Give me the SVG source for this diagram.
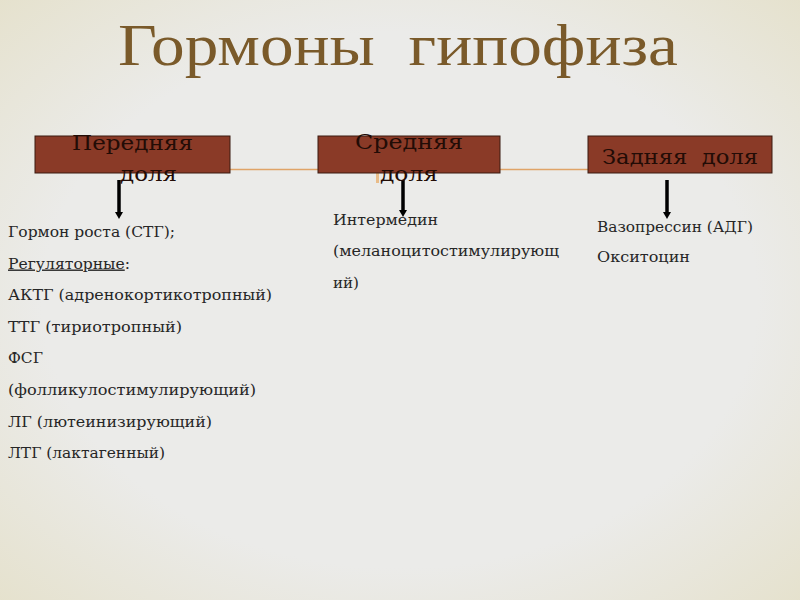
<svg xmlns="http://www.w3.org/2000/svg" width="800" height="600" viewBox="0 0 800 600">
<defs>
<radialGradient id="bg" cx="50%" cy="50%" r="72%">
<stop offset="0.62" stop-color="#ebebe9"/>
<stop offset="1" stop-color="#e5e1cc"/>
</radialGradient>
<style>
.box{fill:#8a3a27;stroke:#3a1a10;stroke-width:1}
.bt{font-family:"DejaVu Serif","Liberation Serif",serif;font-size:21px;fill:#220c06}
.t{font-family:"DejaVu Serif","Liberation Serif",serif;font-size:14px;fill:#262626}
.arr{stroke:#000;stroke-width:3.5;fill:none}
.head{fill:#000}
</style>
</defs>
<rect width="800" height="600" fill="url(#bg)"/>
<text x="118" y="65" textLength="560" lengthAdjust="spacingAndGlyphs" font-family="Liberation Serif,serif" font-size="60" fill="#7a5a2a" xml:space="preserve">Гормоны  гипофиза</text>
<g id="connectors">
<line x1="230" y1="169.5" x2="588" y2="169.5" stroke="#e0a468" stroke-width="1.5"/>
<rect x="376" y="173" width="3" height="10" fill="#e8b070" opacity="0.8"/>
<line class="arr" x1="119" y1="180" x2="119" y2="213"/>
<polygon class="head" points="115,212 123,212 119,219"/>
<line class="arr" x1="403" y1="180" x2="403" y2="211"/>
<polygon class="head" points="399,210 407,210 403,217"/>
<line class="arr" x1="667" y1="180" x2="667" y2="213"/>
<polygon class="head" points="663,212 671,212 667,219"/>
</g>
<g id="node-front">
<rect class="box" x="35" y="136" width="195" height="37"/>
<text class="bt" x="72" y="150" textLength="121" lengthAdjust="spacingAndGlyphs">Передняя</text>
<text class="bt" x="120" y="181" textLength="57" lengthAdjust="spacingAndGlyphs">доля</text>
</g>
<g id="node-middle">
<rect class="box" x="318" y="136" width="182" height="37"/>
<text class="bt" x="355" y="149" textLength="108" lengthAdjust="spacingAndGlyphs">Средняя</text>
<text class="bt" x="380" y="181" textLength="58" lengthAdjust="spacingAndGlyphs">доля</text>
</g>
<g id="node-back">
<rect class="box" x="588" y="136" width="184" height="37"/>
<text class="bt" x="602" y="164" textLength="156" lengthAdjust="spacingAndGlyphs" xml:space="preserve">Задняя  доля</text>
</g>
<g id="list-front" class="t">
<text x="8" y="237" textLength="167" lengthAdjust="spacingAndGlyphs">Гормон роста (СТГ);</text>
<text x="8" y="268.5" textLength="122" lengthAdjust="spacingAndGlyphs"><tspan text-decoration="underline">Регуляторные</tspan>:</text>
<text x="8" y="300" textLength="264" lengthAdjust="spacingAndGlyphs">АКТГ (адренокортикотропный)</text>
<text x="8" y="331.5" textLength="174" lengthAdjust="spacingAndGlyphs">ТТГ (тириотропный)</text>
<text x="8" y="363" textLength="35" lengthAdjust="spacingAndGlyphs">ФСГ</text>
<text x="8" y="395" textLength="248" lengthAdjust="spacingAndGlyphs">(фолликулостимулирующий)</text>
<text x="8" y="426.5" textLength="204" lengthAdjust="spacingAndGlyphs">ЛГ (лютеинизирующий)</text>
<text x="8" y="458" textLength="157" lengthAdjust="spacingAndGlyphs">ЛТГ (лактагенный)</text>
</g>
<g id="list-middle" class="t">
<text x="333" y="225" textLength="105" lengthAdjust="spacingAndGlyphs">Интермедин</text>
<text x="333" y="256" textLength="226" lengthAdjust="spacingAndGlyphs">(меланоцитостимулирующ</text>
<text x="333" y="288" textLength="26" lengthAdjust="spacingAndGlyphs">ий)</text>
</g>
<g id="list-back" class="t">
<text x="597" y="232" textLength="156" lengthAdjust="spacingAndGlyphs">Вазопрессин (АДГ)</text>
<text x="597" y="262" textLength="93" lengthAdjust="spacingAndGlyphs">Окситоцин</text>
</g>
</svg>
